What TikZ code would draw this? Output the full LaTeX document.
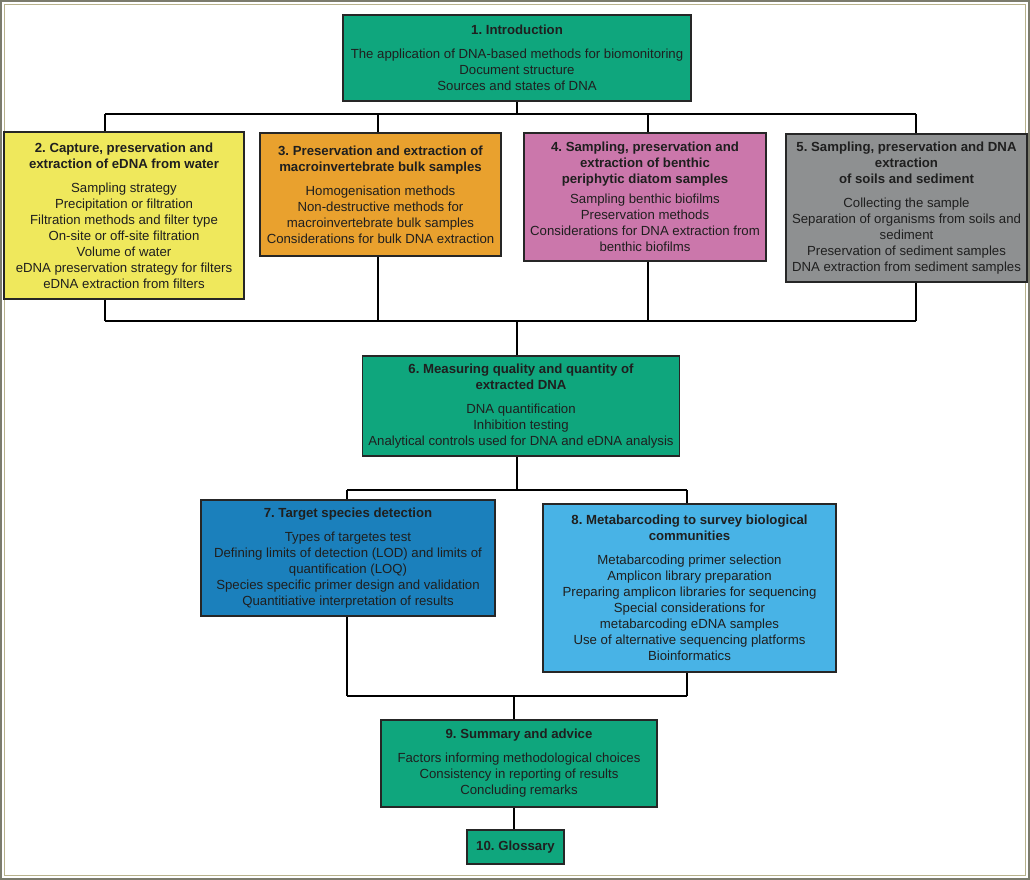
\documentclass[tikz,border=0pt]{standalone}
\usepackage{fontspec}
\setmainfont{Liberation Sans}
\usetikzlibrary{positioning}

\definecolor{tealgreen}{HTML}{0FA67D}
\definecolor{lemon}{HTML}{EFE85C}
\definecolor{amber}{HTML}{E9A12E}
\definecolor{orchid}{HTML}{CB77AB}
\definecolor{slate}{HTML}{8E9091}
\definecolor{deepblue}{HTML}{1B80BC}
\definecolor{skyblue}{HTML}{48B3E6}
\definecolor{framegray}{HTML}{7B7B6C}
\definecolor{frameline}{HTML}{B8B28C}

\tikzset{
  box/.style={draw=black!85, line width=1.3pt, align=center, inner sep=0pt,
    text=black!88, font=\fontsize{13.2}{16}\selectfont},
  link/.style={line width=2.3pt, black},
}

\begin{document}
\frenchspacing
\begin{tikzpicture}[x=1pt, y=-1pt]
\useasboundingbox (0,0) rectangle (1030,880);
\draw[framegray, line width=2pt] (1,1) rectangle (1029,879);
\draw[frameline, line width=0.7pt] (4.5,4.5) rectangle (1025.5,875.5);

\def\gap{\\[8pt]}

\node[box, fill=tealgreen, minimum width=348, minimum height=86] (intro) at (517,58)
  {\textbf{1. Introduction}\gap The application of DNA-based methods for biomonitoring\\
   Document structure\\ Sources and states of DNA};

\node[box, fill=lemon, minimum width=240, minimum height=167] (water) at (124,215.5)
  {\textbf{2. Capture, preservation and}\\ \textbf{extraction of eDNA from water}\gap
   Sampling strategy\\ Precipitation or filtration\\ Filtration methods and filter type\\
   On-site or off-site filtration\\ Volume of water\\
   eDNA preservation strategy for filters\\ eDNA extraction from filters};

\node[box, fill=amber, minimum width=241, minimum height=123] (bulk) at (380.5,194.5)
  {\textbf{3. Preservation and extraction of}\\ \textbf{macroinvertebrate bulk samples}\gap
   Homogenisation methods\\ Non-destructive methods for\\ macroinvertebrate bulk samples\\
   Considerations for bulk DNA extraction};

\node[box, fill=orchid, minimum width=242, minimum height=128] (diatom) at (645,197)
  {\textbf{4. Sampling, preservation and}\\ \textbf{extraction of benthic}\\
   \textbf{periphytic diatom samples}\\[4pt]
   Sampling benthic biofilms\\ Preservation methods\\
   Considerations for DNA extraction from\\ benthic biofilms};

\node[box, fill=slate, minimum width=241, minimum height=148] (soil) at (906.5,208)
  {\textbf{5. Sampling, preservation and DNA}\\ \textbf{extraction}\\
   \textbf{of soils and sediment}\gap
   Collecting the sample\\ Separation of organisms from soils and\\ sediment\\
   Preservation of sediment samples\\ DNA extraction from sediment samples};

\node[box, fill=tealgreen, minimum width=317, minimum height=100] (quality) at (521,406)
  {\textbf{6. Measuring quality and quantity of}\\ \textbf{extracted DNA}\gap
   DNA quantification\\ Inhibition testing\\
   Analytical controls used for DNA and eDNA analysis};

\node[box, fill=deepblue, minimum width=294, minimum height=116] (target) at (348,558)
  {\textbf{7. Target species detection}\gap Types of targetes test\\
   Defining limits of detection (LOD) and limits of\\ quantification (LOQ)\\
   Species specific primer design and validation\\
   Quantitiative interpretation of results};

\node[box, fill=skyblue, minimum width=293, minimum height=168] (meta) at (689.5,588)
  {\textbf{8. Metabarcoding to survey biological}\\ \textbf{communities}\gap
   Metabarcoding primer selection\\ Amplicon library preparation\\
   Preparing amplicon libraries for sequencing\\ Special considerations for\\
   metabarcoding eDNA samples\\ Use of alternative sequencing platforms\\
   Bioinformatics};

\node[box, fill=tealgreen, minimum width=276, minimum height=87] (summary) at (519,763.5)
  {\textbf{9. Summary and advice}\gap Factors informing methodological choices\\
   Consistency in reporting of results\\ Concluding remarks};

\node[box, fill=tealgreen, minimum width=97, minimum height=34] (gloss) at (515.5,847)
  {\textbf{10. Glossary}};

% upper buses
\coordinate (ta) at (105,114);
\coordinate (tb) at (378,114);
\coordinate (tc) at (648,114);
\coordinate (td) at (916,114);
\coordinate (ua) at (105,321);
\coordinate (ub) at (378,321);
\coordinate (uc) at (648,321);
\coordinate (ud) at (916,321);
\coordinate (um) at (517,321);

\draw[link] (intro.south -| um) -- (um |- ta);
\draw[link] (ta) -- (td);
\draw[link] (ua) -- (ud);
\foreach \n/\t/\u in {water/ta/ua, bulk/tb/ub, diatom/tc/uc, soil/td/ud}{
  \draw[link] (\t) -- (\n.north -| \t);
  \draw[link] (\n.south -| \u) -- (\u);
}
\draw[link] (um) -- (quality.north -| um);

% lower buses
\coordinate (va) at (347,490);
\coordinate (vb) at (687,490);
\coordinate (wa) at (347,696);
\coordinate (wb) at (687,696);
\coordinate (wm) at (514,696);

\draw[link] (quality.south -| um) -- (um |- va);
\draw[link] (va) -- (vb);
\draw[link] (va) -- (target.north -| va);
\draw[link] (vb) -- (meta.north -| vb);
\draw[link] (target.south -| wa) -- (wa);
\draw[link] (meta.south -| wb) -- (wb);
\draw[link] (wa) -- (wb);
\draw[link] (wm) -- (summary.north -| wm);
\draw[link] (summary.south -| wm) -- (gloss.north -| wm);
\end{tikzpicture}
\end{document}
